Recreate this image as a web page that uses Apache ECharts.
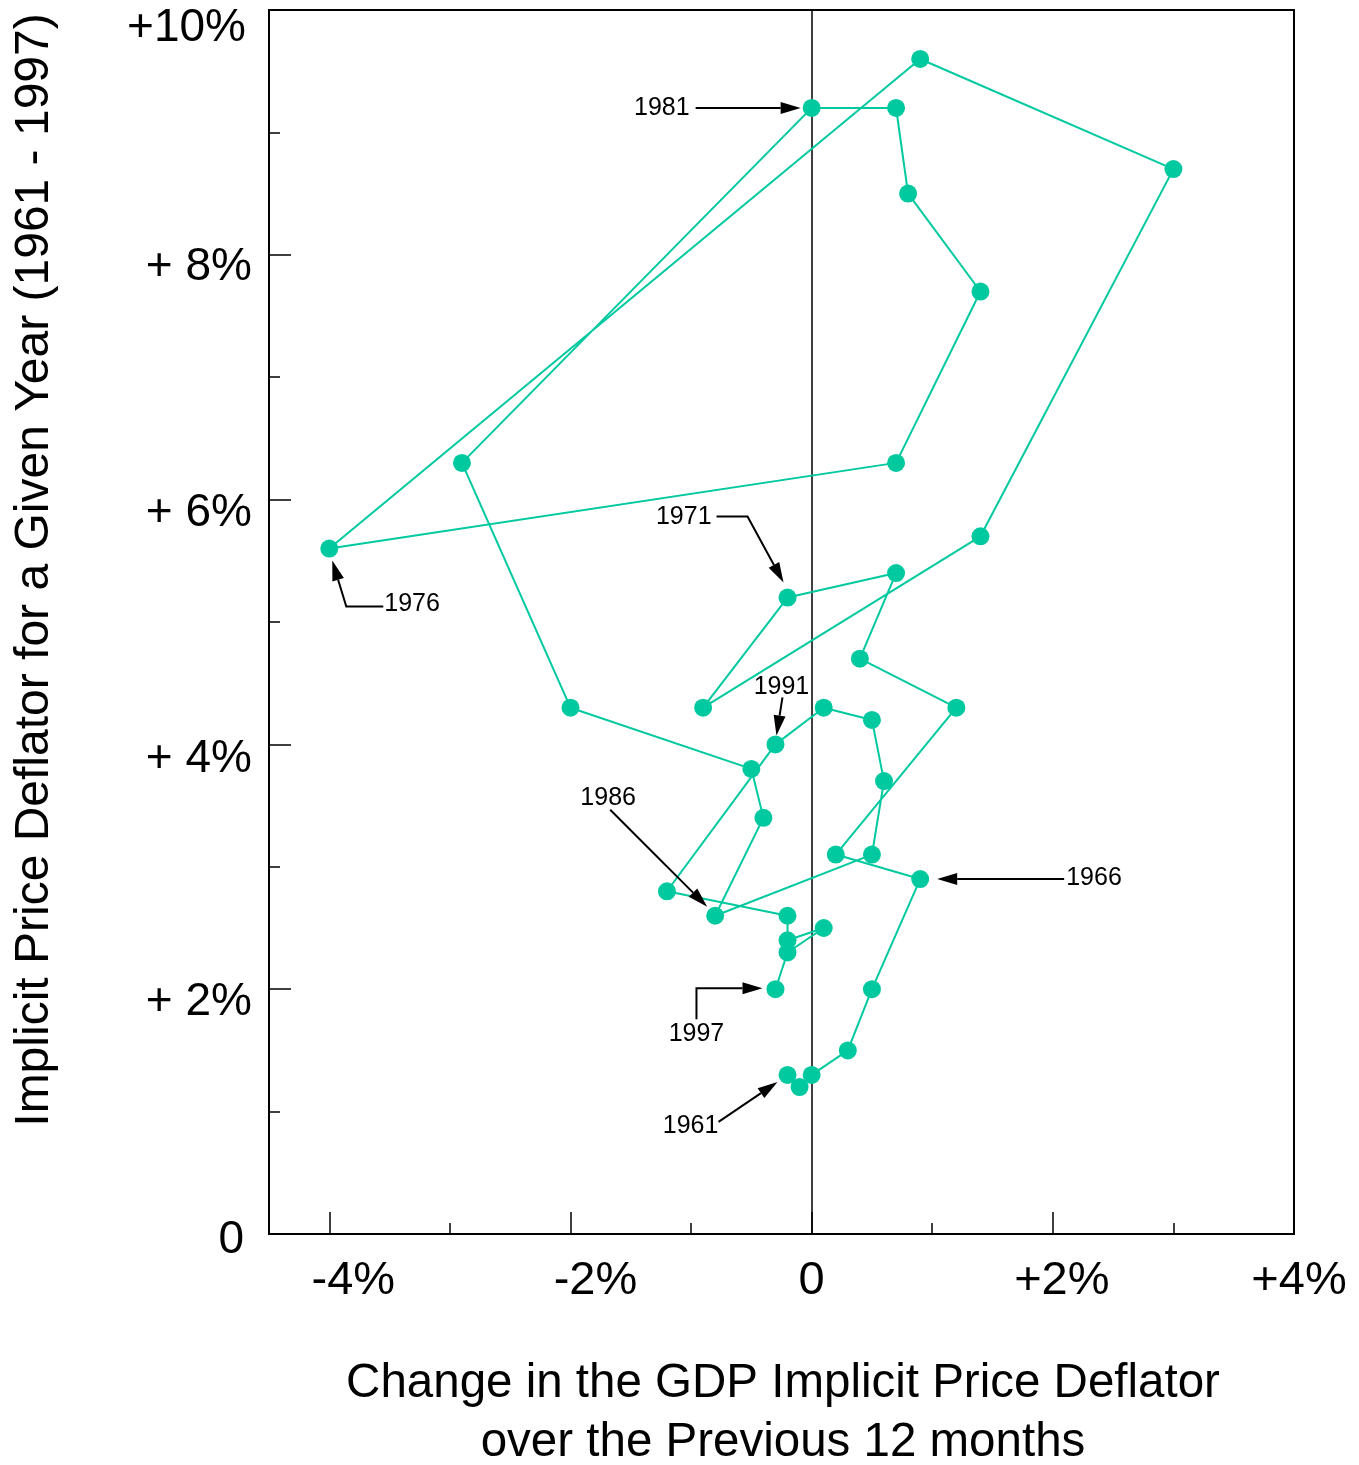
<!DOCTYPE html>
<html>
<head>
<meta charset="utf-8">
<script src="https://cdn.jsdelivr.net/npm/echarts@6/dist/echarts.min.js"></script>
<style>
  html, body { margin: 0; padding: 0; background: #ffffff; }
  #chart { width: 1359px; height: 1465px; }
</style>
</head>
<body>
<div id="chart"></div>
<script>
// Inflation path, 1961 - 1997
const years = [1961, 1962, 1963, 1964, 1965, 1966, 1967, 1968, 1969, 1970,
               1971, 1972, 1973, 1974, 1975, 1976, 1977, 1978, 1979, 1980,
               1981, 1982, 1983, 1984, 1985, 1986, 1987, 1988, 1989, 1990,
               1991, 1992, 1993, 1994, 1995, 1996, 1997];
// change in the deflator over the previous 12 months (%)
const deflatorChange = [-0.2, -0.1, 0.0, 0.3, 0.5, 0.9, 0.2, 1.2, 0.4, 0.7,
                        -0.2, -0.9, 1.4, 3.0, 0.9, -4.0, 0.7, 1.4, 0.8, 0.7,
                        0.0, -2.9, -2.0, -0.5, -0.4, -0.8, 0.5, 0.6, 0.5, 0.1,
                        -0.3, -1.2, -0.2, -0.2, 0.1, -0.2, -0.3];
// implicit price deflator for the year (%)
const deflatorRate = [1.3, 1.2, 1.3, 1.5, 2.0, 2.9, 3.1, 4.3, 4.7, 5.4,
                      5.2, 4.3, 5.7, 8.7, 9.6, 5.6, 6.3, 7.7, 8.5, 9.2,
                      9.2, 6.3, 4.3, 3.8, 3.4, 2.6, 3.1, 3.7, 4.2, 4.3,
                      4.0, 2.8, 2.6, 2.4, 2.5, 2.3, 2.0];

const xMajorTicks = [-4, -2, 0, 2, 4];
const xMinorTicks = [-3, -1, 1, 3];
const xTickLabels = ['-4%', '-2%', '0', '+2%', '+4%'];
const yTickValues = [0, 2, 4, 6, 8, 10];
const yTickLabels = ['0', '+ 2%', '+ 4%', '+ 6%', '+ 8%', '+10%'];
const labelledYears = [1961, 1966, 1971, 1976, 1981, 1986, 1991, 1997];

const FONT = '"Liberation Sans", Arial, Helvetica, sans-serif';
const TEAL = '#00C9A0';

// per-label nudges (px) of the tick labels
const xLabelShift = { '-4': 24, '-2': 25, '0': 0, '2': 9, '4': 5 };
const yLabelShift = { '0': 6, '2': 13, '4': 15, '6': 14, '8': 13, '10': 18 };
const yLabelInset = { '0': 8, '2': 0, '4': 0, '6': 0, '8': 0, '10': 6 };

const xRich = {}, yRich = {};
xMajorTicks.forEach((v, i) => {
  xRich['x' + i] = { fontSize: 47, fontFamily: FONT, color: '#000',
                     padding: [0, 0, 0, 2 * xLabelShift[String(v)]] };
});
yTickValues.forEach((v, i) => {
  yRich['y' + i] = { fontSize: 46, fontFamily: FONT, color: '#000',
                     padding: [2 * yLabelShift[String(v)], yLabelInset[String(v)], 0, 0] };
});

const points = years.map((yr, i) => [deflatorChange[i], deflatorRate[i], yr]);

const chart = echarts.init(document.getElementById('chart'), null, { renderer: 'canvas' });

chart.setOption({
  animation: false,
  backgroundColor: '#ffffff',
  grid: {
    left: 269, right: 65, top: 10, bottom: 231,
    show: true, borderColor: '#000', borderWidth: 2, backgroundColor: 'transparent'
  },
  xAxis: [{
    type: 'value', min: -4.5, max: 4,
    axisLine: { show: false, onZero: false },
    splitLine: { show: false },
    axisTick: { show: true, inside: true, length: 22, customValues: xMajorTicks,
                lineStyle: { color: '#000', width: 1.5 } },
    axisLabel: {
      customValues: xMajorTicks, margin: 24,
      formatter: v => {
        const i = xMajorTicks.indexOf(v);
        return '{x' + i + '|' + xTickLabels[i] + '}';
      },
      rich: xRich
    }
  }, {
    type: 'value', min: -4.5, max: 4, position: 'bottom',
    axisLine: { show: false, onZero: false },
    splitLine: { show: false },
    axisTick: { show: true, inside: true, length: 11, customValues: xMinorTicks,
                lineStyle: { color: '#000', width: 1.5 } },
    axisLabel: { show: false }
  }],
  yAxis: {
    type: 'value', min: 0, max: 10, interval: 2, position: 'left',
    axisLine: { show: false, onZero: false },
    splitLine: { show: false },
    axisTick: { show: true, inside: true, length: 22, lineStyle: { color: '#000', width: 1.5 } },
    minorTick: { show: true, splitNumber: 2, length: 11, lineStyle: { color: '#000', width: 1.5 } },
    minorSplitLine: { show: false },
    axisLabel: {
      margin: 17, align: 'right',
      formatter: v => {
        const i = yTickValues.indexOf(v);
        return '{y' + i + '|' + yTickLabels[i] + '}';
      },
      rich: yRich
    }
  },
  series: [{
    type: 'line',
    data: points,
    xAxisIndex: 0,
    symbol: 'circle',
    symbolSize: 18,
    showAllSymbol: true,
    lineStyle: { color: TEAL, width: 2 },
    itemStyle: { color: TEAL, borderWidth: 0 },
    z: 3,
    markLine: {
      silent: true, symbol: 'none',
      label: { show: false },
      lineStyle: { color: '#000', width: 1.5, type: 'solid' },
      data: [{ xAxis: 0 }],
      z: 2
    }
  }]
});

// Year call-outs: text and arrow path as pixel offsets from the labelled point
const calloutLayout = {
  1981: { text: [-122, 0, 'right'],  path: [[-116, 0], [-11, 0]] },
  1971: { text: [-76, -80, 'right'], path: [[-71, -81], [-40, -81], [-4, -15]] },
  1976: { text: [55, 56, 'left'],    path: [[54, 58], [17, 58], [3, 12]] },
  1991: { text: [6, -57, 'center'],  path: [[7, -47], [1, -9]] },
  1986: { text: [-107, -118, 'center'], path: [[-105, -106], [-8, -9]] },
  1966: { text: [146, -1, 'left'],   path: [[144, 0], [17, 0]] },
  1997: { text: [-79, 45, 'center'], path: [[-79, 30], [-79, -1], [-13, -1]] },
  1961: { text: [-97, 51, 'center'], path: [[-69, 47], [-10, 7]] }
};

function arrowElements(pts) {
  const n = pts.length;
  const tip = pts[n - 1], prev = pts[n - 2];
  const dx = tip[0] - prev[0], dy = tip[1] - prev[1];
  const len = Math.hypot(dx, dy);
  const ux = dx / len, uy = dy / len;
  const headLen = 20, halfW = 6;
  const base = [tip[0] - ux * headLen, tip[1] - uy * headLen];
  const linePts = pts.slice(0, n - 1).concat([base]);
  return [
    { type: 'polyline', silent: true, z: 10,
      shape: { points: linePts },
      style: { stroke: '#000', lineWidth: 2, fill: null } },
    { type: 'polygon', silent: true, z: 10,
      shape: { points: [tip,
        [base[0] - uy * halfW, base[1] + ux * halfW],
        [base[0] + uy * halfW, base[1] - ux * halfW]] },
      style: { fill: '#000', stroke: null } }
  ];
}

const graphics = [];
labelledYears.forEach(yr => {
  const i = years.indexOf(yr);
  const p = chart.convertToPixel({ seriesIndex: 0 }, [deflatorChange[i], deflatorRate[i]]);
  const lay = calloutLayout[yr];
  graphics.push({
    type: 'text', silent: true, z: 10,
    x: p[0] + lay.text[0], y: p[1] + lay.text[1],
    style: { text: String(yr), font: '25px ' + FONT, fill: '#000',
             textAlign: lay.text[2], align: lay.text[2],
             textVerticalAlign: 'middle', verticalAlign: 'middle' }
  });
  const pts = lay.path.map(o => [p[0] + o[0], p[1] + o[1]]);
  arrowElements(pts).forEach(e => graphics.push(e));
});

// axis titles
graphics.push({
  type: 'text', silent: true,
  x: 35, y: 570, rotation: Math.PI / 2,
  style: { text: 'Implicit Price Deflator for a Given Year (1961 - 1997)',
           font: '48px ' + FONT, fill: '#000',
           textAlign: 'center', align: 'center',
           textVerticalAlign: 'middle', verticalAlign: 'middle' }
});
graphics.push({
  type: 'text', silent: true,
  x: 783, y: 1384,
  style: { text: 'Change in the GDP Implicit Price Deflator',
           font: '47.5px ' + FONT, fill: '#000',
           textAlign: 'center', align: 'center',
           textVerticalAlign: 'middle', verticalAlign: 'middle' }
});
graphics.push({
  type: 'text', silent: true,
  x: 783, y: 1443,
  style: { text: 'over the Previous 12 months',
           font: '47.5px ' + FONT, fill: '#000',
           textAlign: 'center', align: 'center',
           textVerticalAlign: 'middle', verticalAlign: 'middle' }
});

chart.setOption({ graphic: { elements: graphics } });
</script>
</body>
</html>
